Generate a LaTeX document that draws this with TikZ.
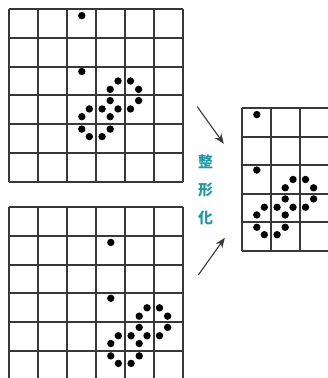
\documentclass[tikz,border=0pt]{standalone}
\usepackage{fontspec}
\usepackage{xcolor}
\usepackage{tikz}
\usetikzlibrary{arrows.meta,positioning}
\newfontfamily\jpfont{Noto Sans CJK JP}
\definecolor{shapeteal}{HTML}{1A9BAC}
\definecolor{gridgray}{HTML}{383838}

\begin{document}
\begin{tikzpicture}[
  x=1bp, y=-1bp,
  gridline/.style={draw=gridgray, line width=2bp},
  pix/.style={fill=black},
  arr/.style={-{Stealth[length=10bp, width=8bp]}, line width=1.1bp, draw=gridgray},
  lbl/.style={font=\jpfont\bfseries\fontsize{15}{17}\selectfont, text=shapeteal, inner sep=0pt}
]
\useasboundingbox (0,0) rectangle (328,378);
\clip (0,0) rectangle (328,378);
% ---- dot pattern, in cells
\def\dotlist{0.51/0.23, 0.51/2.17, 1.76/2.5, 2.19/2.5, 1.49/2.79, 2.47/2.79,
  1.49/3.18, 2.47/3.18, 0.77/3.47, 1.21/3.47, 1.76/3.47, 2.19/3.47,
  0.51/3.74, 1.49/3.74, 0.51/4.17, 1.49/4.17, 0.77/4.43, 1.21/4.43}
% ---- (a) upper grid
\begin{scope}[shift={(9,9)}, x=29bp, y=-28.8bp]
  \foreach \k in {0,...,6} {
    \draw[gridline] (\k,0) -- (\k,6);
    \draw[gridline] (0,\k) -- (6,\k);
  }
  \foreach \u/\v in \dotlist { \fill[pix] (\u+2,\v) circle (3.7bp); }
\end{scope}
% ---- (b) lower grid
\begin{scope}[shift={(9,207)}, x=29bp, y=-28.8bp]
  \foreach \k in {0,...,6} {
    \draw[gridline] (\k,0) -- (\k,6.5);
  }
  \foreach \k in {0,...,5} {
    \draw[gridline] (0,\k) -- (6,\k);
  }
  \foreach \u/\v in \dotlist { \fill[pix] (\u+3,\v+1) circle (3.7bp); }
\end{scope}
% ---- (c) result grid
\begin{scope}[shift={(242,108)}, x=29bp, y=-28.6bp]
  \foreach \k in {0,...,3} {
    \draw[gridline] (\k,0) -- (\k,5);
  }
  \foreach \k in {0,...,5} {
    \draw[gridline] (0,\k) -- (3.5,\k);
  }
  \foreach \u/\v in \dotlist { \fill[pix] (\u,\v) circle (3.7bp); }
\end{scope}
% ---- label and arrows
\foreach \c/\y [count=\i] in {整/161.7, 形/189.5, 化/217.5} {
  \node[lbl] (lab\i) at (205.7,\y) {\c};
}
\coordinate (topstart) at (197.3,106.7);
\coordinate (topend) at (223.8,143.8);
\coordinate (botstart) at (198.3,275);
\coordinate (botend) at (224.8,237.8);
\draw[arr] (topstart) -- (topend);
\draw[arr] (botstart) -- (botend);
\end{tikzpicture}
\end{document}
